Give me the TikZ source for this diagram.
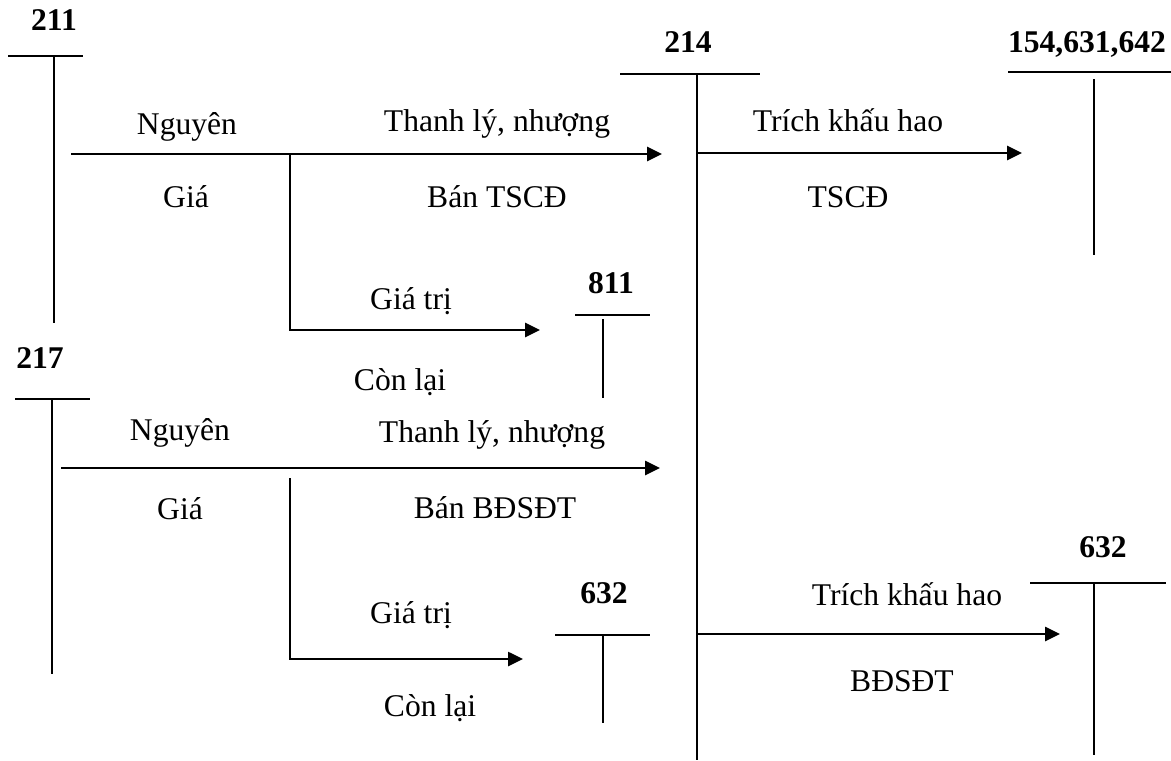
\documentclass[tikz,border=0pt]{standalone}
\usepackage{fontspec}
\setmainfont{Liberation Serif}
\usetikzlibrary{arrows.meta}

\begin{document}
\begin{tikzpicture}[x=0.5pt, y=-0.5pt, >={Triangle[length=7.5pt,width=7pt]}, line width=0.9pt,
        txt/.style={anchor=base, inner sep=0pt, font=\fontsize{15.8}{19}\selectfont},
        acct/.style={anchor=base, inner sep=0pt, font=\fontsize{15.8}{19}\selectfont\bfseries},
        flow/.style={->, line width=1.3pt}]
        \useasboundingbox (0,0) rectangle (1171,760);

        % account numbers
        \node[acct] (a211) at (54,30) {211};
        \node[acct] (a214) at (688,52) {214};
        \node[acct] (a154) at (1087,52) {154,631,642};
        \node[acct] (a811) at (611,293) {811};
        \node[acct] (a217) at (40,368) {217};
        \node[acct] (a632l) at (604,603) {632};
        \node[acct] (a632r) at (1103,557) {632};

        % T accounts
        \draw (8,56) -- (83,56);      \draw (54,56) -- (54,323);
        \draw (620,74) -- (760,74);   \draw (697,74) -- (697,760);
        \draw (1008,72) -- (1171,72); \draw (1094,79) -- (1094,255);
        \draw (575,315) -- (650,315); \draw (603,319) -- (603,398);
        \draw (15,399) -- (90,399);   \draw (52,399) -- (52,674);
        \draw (555,635) -- (650,635); \draw (603,635) -- (603,723);
        \draw (1030,583) -- (1166,583); \draw (1094,583) -- (1094,755);

        % connector ends
        \coordinate (s1) at (71,154);
        \coordinate (e1) at (662,154);
        \coordinate (b1) at (290,154);
        \coordinate (r1) at (540,330);
        \coordinate (s2) at (697,153);
        \coordinate (e2) at (1022,153);
        \coordinate (s3) at (61,468);
        \coordinate (e3) at (660,468);
        \coordinate (b3) at (290,478);
        \coordinate (r3) at (523,659);
        \coordinate (s4) at (697,634);
        \coordinate (e4) at (1060,634);

        \draw[flow] (s1) -- (e1);
        \draw[flow] (b1) |- (r1);
        \draw[flow] (s2) -- (e2);
        \draw[flow] (s3) -- (e3);
        \draw[flow] (b3) |- (r3);
        \draw[flow] (s4) -- (e4);

        % labels
        \node[txt] (ng1) at (187,134) {Nguyên};
        \node[txt] (gi1) at (186,207) {Giá};
        \node[txt] (tl1) at (497,131) {Thanh lý, nhượng};
        \node[txt] (bt1) at (497,207) {Bán TSCĐ};
        \node[txt] (kh1) at (848,131) {Trích khấu hao};
        \node[txt] (ts1) at (848,207) {TSCĐ};
        \node[txt] (gt1) at (411,309) {Giá trị};
        \node[txt] (cl1) at (400,390) {Còn lại};
        \node[txt] (ng2) at (180,440) {Nguyên};
        \node[txt] (tl2) at (492,442) {Thanh lý, nhượng};
        \node[txt] (gi2) at (180,519) {Giá};
        \node[txt] (bt2) at (495,518) {Bán BĐSĐT};
        \node[txt] (gt2) at (411,623) {Giá trị};
        \node[txt] (cl2) at (430,716) {Còn lại};
        \node[txt] (kh2) at (907,605) {Trích khấu hao};
        \node[txt] (ts2) at (902,691) {BĐSĐT};
    \end{tikzpicture}
\end{document}
